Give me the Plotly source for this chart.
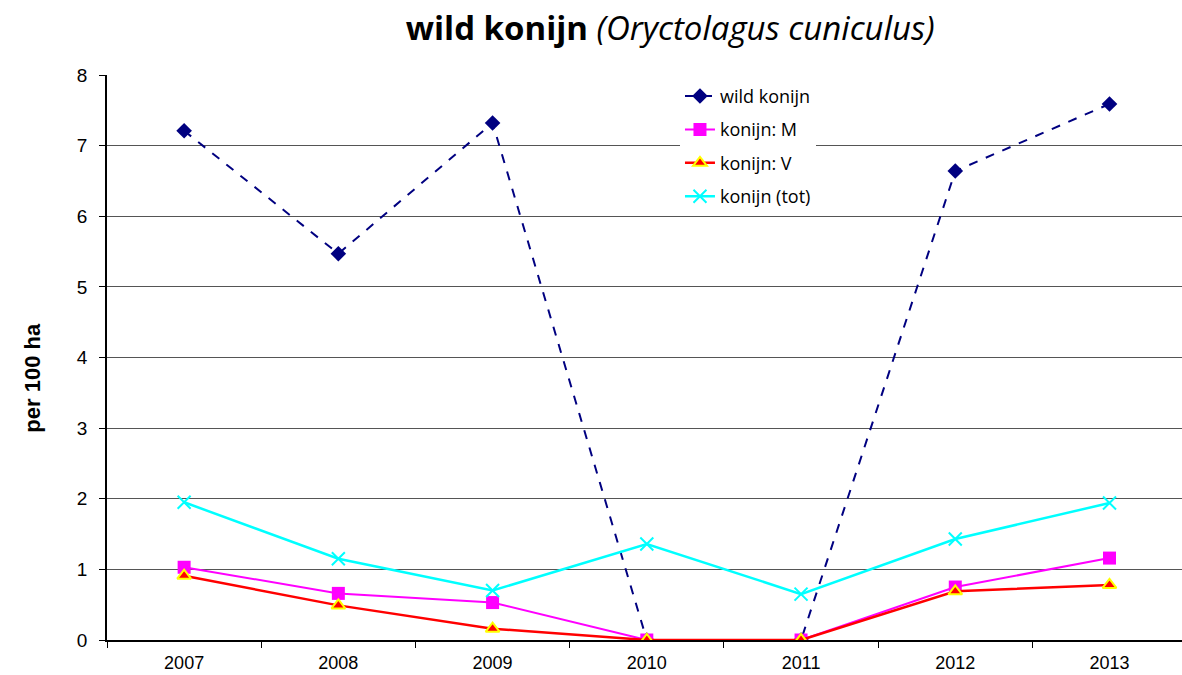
import plotly.graph_objects as go

# data
years = ["2007", "2008", "2009", "2010", "2011", "2012", "2013"]
wild_konijn = [7.21, 5.47, 7.32, 0.0, 0.0, 6.64, 7.59]
konijn_m = [1.03, 0.66, 0.53, 0.0, 0.0, 0.75, 1.16]
konijn_v = [0.91, 0.49, 0.16, 0.0, 0.0, 0.69, 0.78]
konijn_tot = [1.95, 1.15, 0.70, 1.36, 0.65, 1.43, 1.94]
y_ticks = [0, 1, 2, 3, 4, 5, 6, 7, 8]

fig = go.Figure()

fig.add_trace(go.Scatter(
    x=years, y=wild_konijn, name="wild konijn", mode="lines+markers",
    legendgroup="a",
    line=dict(color="#000080", width=2, dash="dash"),
    marker=dict(symbol="diamond", size=12, color="#000080"),
))
fig.add_trace(go.Scatter(
    x=years, y=konijn_m, name="konijn: M", mode="lines+markers",
    legendgroup="b",
    line=dict(color="#FF00FF", width=2),
    marker=dict(symbol="square", size=13, color="#FF00FF"),
))
fig.add_trace(go.Scatter(
    x=years, y=konijn_v, name="konijn: V", mode="lines+markers",
    legendgroup="c",
    line=dict(color="#FF0000", width=2.5),
    marker=dict(symbol="triangle-up", size=12, color="#FF0000",
                line=dict(color="#FFFF00", width=2)),
))
fig.add_trace(go.Scatter(
    x=years, y=konijn_tot, name="konijn (tot)", mode="lines+markers",
    legendgroup="d",
    line=dict(color="#00FFFF", width=2.5),
    marker=dict(symbol="x-thin", size=13, color="#00FFFF",
                line=dict(color="#00FFFF", width=2)),
))

fig.update_layout(
    width=1182, height=675,
    margin=dict(l=107, r=0, t=75, b=35),
    paper_bgcolor="white", plot_bgcolor="white",
    font=dict(family="Liberation Sans, Arial", size=18, color="black"),
    title=dict(
        text="<b>wild konijn</b> <i>(Oryctolagus cuniculus)</i>",
        font=dict(family="Open Sans, Lato", size=33, color="black"),
        x=0.567, xanchor="center", y=0.958, yanchor="middle",
    ),
    legend=dict(
        x=0.533, y=0.995, xanchor="left", yanchor="top",
        bgcolor="white", borderwidth=0,
        font=dict(family="Open Sans, Lato", size=18),
        tracegroupgap=7,
    ),
    showlegend=True,
)

fig.add_annotation(
    text="<b>per 100 ha</b>", textangle=-90,
    xref="paper", yref="paper", x=-0.069, y=0.464,
    xanchor="center", yanchor="middle",
    showarrow=False, font=dict(size=22, color="black"),
)

fig.update_xaxes(
    type="category", range=[-0.5, 6.47], automargin=False,
    showgrid=False, showline=True, linecolor="black", linewidth=1.5,
    ticks="outside", ticklen=6, tickcolor="black", tickson="boundaries",
    tickfont=dict(size=18), ticklabelstandoff=6,
)
fig.update_yaxes(
    range=[0, 8], tickvals=y_ticks, automargin=False,
    showgrid=True, gridcolor="#555555", gridwidth=1,
    showline=True, linecolor="black", linewidth=1.5,
    ticks="outside", ticklen=6, tickcolor="black",
    tickfont=dict(size=19), zeroline=False, ticklabelstandoff=8,
)

fig.write_html("out.html", config={"displayModeBar": False},
               post_script="document.body.style.margin='0';")
